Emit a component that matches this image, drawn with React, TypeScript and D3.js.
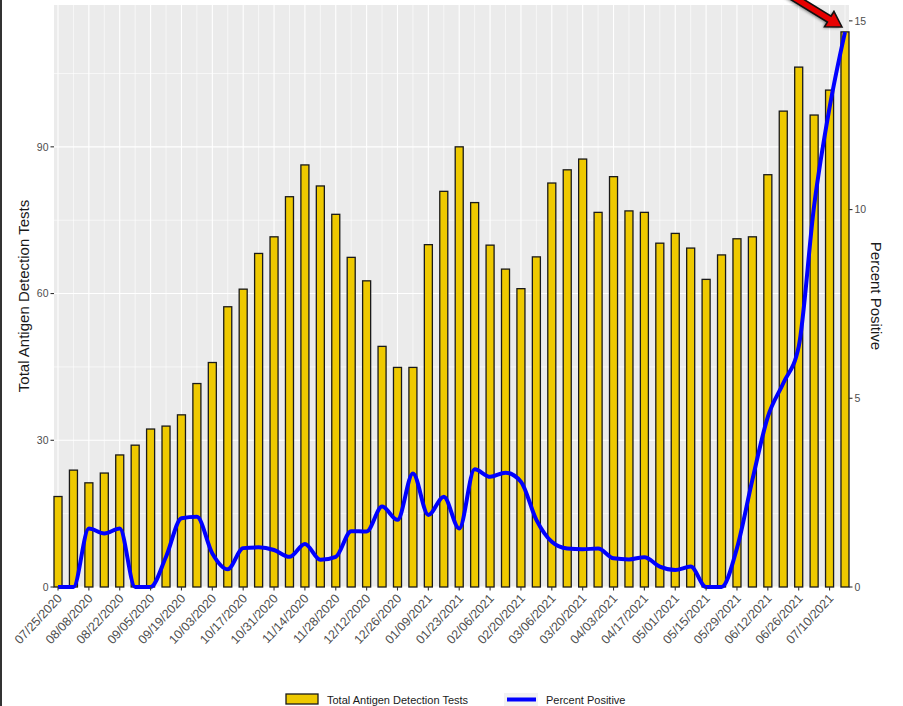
import React from 'react';
import * as d3 from 'd3';

// weekly categories (week starting)
const weeks = [
  '07/25/2020', '08/01/2020', '08/08/2020', '08/15/2020', '08/22/2020', '08/29/2020',
  '09/05/2020', '09/12/2020', '09/19/2020', '09/26/2020', '10/03/2020', '10/10/2020',
  '10/17/2020', '10/24/2020', '10/31/2020', '11/07/2020', '11/14/2020', '11/21/2020',
  '11/28/2020', '12/05/2020', '12/12/2020', '12/19/2020', '12/26/2020', '01/02/2021',
  '01/09/2021', '01/16/2021', '01/23/2021', '01/30/2021', '02/06/2021', '02/13/2021',
  '02/20/2021', '02/27/2021', '03/06/2021', '03/13/2021', '03/20/2021', '03/27/2021',
  '04/03/2021', '04/10/2021', '04/17/2021', '04/24/2021', '05/01/2021', '05/08/2021',
  '05/15/2021', '05/22/2021', '05/29/2021', '06/05/2021', '06/12/2021', '06/19/2021',
  '06/26/2021', '07/03/2021', '07/10/2021', '07/17/2021',
];

const totalTests = [
  18.5, 23.9, 21.3, 23.3, 27.0, 29.0, 32.3, 32.9, 35.2, 41.6, 45.9, 57.3,
  60.9, 68.2, 71.6, 79.8, 86.3, 82.0, 76.2, 67.4, 62.6, 49.2, 44.9, 44.9,
  70.0, 80.9, 90.0, 78.6, 69.9, 65.0, 61.0, 67.5, 82.6, 85.3, 87.5, 76.6,
  83.9, 76.9, 76.6, 70.3, 72.3, 69.3, 62.9, 67.9, 71.2, 71.6, 84.3, 97.3,
  106.3, 96.5, 101.6, 113.5,
];

const percentPositive = [
  0, 0, 1.55, 1.42, 1.55, 0, 0, 0.8, 1.82, 1.86, 0.89, 0.47,
  1.03, 1.05, 0.98, 0.8, 1.14, 0.72, 0.8, 1.48, 1.47, 2.13, 1.78, 3.01,
  1.91, 2.39, 1.55, 3.12, 2.92, 3.03, 2.79, 1.78, 1.2, 1.02, 1.0, 1.02,
  0.76, 0.73, 0.79, 0.54, 0.45, 0.54, 0, 0, 1.03, 2.84, 4.51, 5.4,
  6.37, 10.1, 12.7, 14.7,
];

const leftTicks = [0, 30, 60, 90];
const leftMinor = [15, 45, 75, 105];
const rightTicks = [0, 5, 10, 15];

const W = 903;
const H = 706;
const panel = { left: 54, right: 849, top: 5, bottom: 587 };
const font = 'Liberation Sans, Arial, sans-serif';

export default function App() {
  const x = d3.scaleBand<string>()
    .domain(weeks)
    .range([panel.left, panel.right])
    .paddingInner(0.48)
    .paddingOuter(0);
  const yL = d3.scaleLinear().domain([0, 119]).range([panel.bottom, panel.top]);
  const yR = d3.scaleLinear().domain([0, 15.42]).range([panel.bottom, panel.top]);
  const cx = (w: string) => (x(w) as number) + x.bandwidth() / 2;

  const line = d3.line<number>()
    .x((_, i) => cx(weeks[i]))
    .y(d => yR(d))
    .curve(d3.curveMonotoneX);

  const majorWeeks = weeks.filter((_, i) => i % 2 === 0);
  const minorWeeks = weeks.filter((_, i) => i % 2 === 1);
  const tickColor = '#4d4d4d';

  return (
    <svg width={W} height={H} style={{ position: 'absolute', left: 0, top: 0, background: '#fff' }}
      fontFamily={font}>
      <defs>
        <filter id="shadow" x="-50%" y="-50%" width="200%" height="200%">
          <feGaussianBlur stdDeviation="1.6" />
        </filter>
      </defs>
      <rect x={0} y={0} width={2} height={H} fill="#333" />
      {/* panel */}
      <rect x={panel.left} y={panel.top} width={panel.right - panel.left}
        height={panel.bottom - panel.top} fill="#ebebeb" />
      {leftMinor.map(v => (
        <line key={'hm' + v} x1={panel.left} x2={panel.right} y1={yL(v)} y2={yL(v)}
          stroke="#fff" strokeWidth={0.6} />
      ))}
      {minorWeeks.map(w => (
        <line key={'vm' + w} x1={cx(w)} x2={cx(w)} y1={panel.top} y2={panel.bottom}
          stroke="#fff" strokeWidth={0.6} />
      ))}
      {leftTicks.map(v => (
        <line key={'h' + v} x1={panel.left} x2={panel.right} y1={yL(v)} y2={yL(v)}
          stroke="#fff" strokeWidth={1.1} />
      ))}
      {majorWeeks.map(w => (
        <line key={'v' + w} x1={cx(w)} x2={cx(w)} y1={panel.top} y2={panel.bottom}
          stroke="#fff" strokeWidth={1.1} />
      ))}
      {/* bars */}
      {weeks.map((w, i) => (
        <rect key={'b' + w} x={x(w)} y={yL(totalTests[i])} width={x.bandwidth()}
          height={panel.bottom - yL(totalTests[i])} fill="#eec900" stroke="#1a1a1a"
          strokeWidth={1.3} />
      ))}
      {/* line */}
      <path d={line(percentPositive) || ''} fill="none" stroke="#0000ff" strokeWidth={4}
        strokeLinejoin="round" />
      {/* left axis */}
      {leftTicks.map(v => (
        <g key={'lt' + v}>
          <line x1={panel.left - 3.5} x2={panel.left} y1={yL(v)} y2={yL(v)} stroke="#333" strokeWidth={1.1} />
          <text x={panel.left - 5.5} y={yL(v)} dy="0.35em" textAnchor="end" fontSize={10.5}
            fill={tickColor}>{v}</text>
        </g>
      ))}
      {/* right axis */}
      {rightTicks.map(v => (
        <g key={'rt' + v}>
          <line x1={panel.right} x2={panel.right + 3.5} y1={yR(v)} y2={yR(v)} stroke="#333" strokeWidth={1.1} />
          <text x={panel.right + 5.5} y={yR(v)} dy="0.35em" textAnchor="start" fontSize={10.5}
            fill={tickColor}>{v}</text>
        </g>
      ))}
      {/* bottom axis */}
      {majorWeeks.map(w => (
        <g key={'bt' + w}>
          <line x1={cx(w)} x2={cx(w)} y1={panel.bottom} y2={panel.bottom + 3.5} stroke="#333" strokeWidth={1.1} />
          <text transform={`translate(${cx(w) + 1.5},${panel.bottom + 9}) rotate(-47)`}
            textAnchor="end" dy="0.35em" fontSize={12.5} fill={tickColor}>{w}</text>
        </g>
      ))}
      {/* axis titles */}
      <text transform={`translate(28.5,${(panel.top + panel.bottom) / 2}) rotate(-90)`}
        textAnchor="middle" fontSize={15} fill="#1a1a1a">Total Antigen Detection Tests</text>
      <text transform={`translate(871,${(panel.top + panel.bottom) / 2}) rotate(90)`}
        textAnchor="middle" fontSize={15} fill="#1a1a1a">Percent Positive</text>
      {/* legend */}
      <rect x={286} y={694} width={32} height={10} fill="#eec900" stroke="#1a1a1a" strokeWidth={1.3} />
      <text x={327} y={703.5} fontSize={11} fill="#1a1a1a">Total Antigen Detection Tests</text>
      <rect x={504} y={693} width={34} height={13} fill="#f2f2f2" />
      <line x1={507} x2={536} y1={699.5} y2={699.5} stroke="#0000ff" strokeWidth={4} />
      <text x={546} y={703.5} fontSize={11} fill="#1a1a1a">Percent Positive</text>
      {/* arrow */}
      <g transform="translate(842,27) rotate(31.6)">
        <path d="M0,0 L-15,-9 L-15,-3.5 L-70,-3.5 L-70,3.5 L-15,3.5 L-15,9 Z"
          fill="#000" opacity={0.55} filter="url(#shadow)" transform="translate(-1,1.5)" />
        <path d="M0,0 L-15,-9 L-15,-3.5 L-70,-3.5 L-70,3.5 L-15,3.5 L-15,9 Z"
          fill="#e60000" stroke="#111" strokeWidth={1.6} strokeLinejoin="miter" />
      </g>
    </svg>
  );
}
